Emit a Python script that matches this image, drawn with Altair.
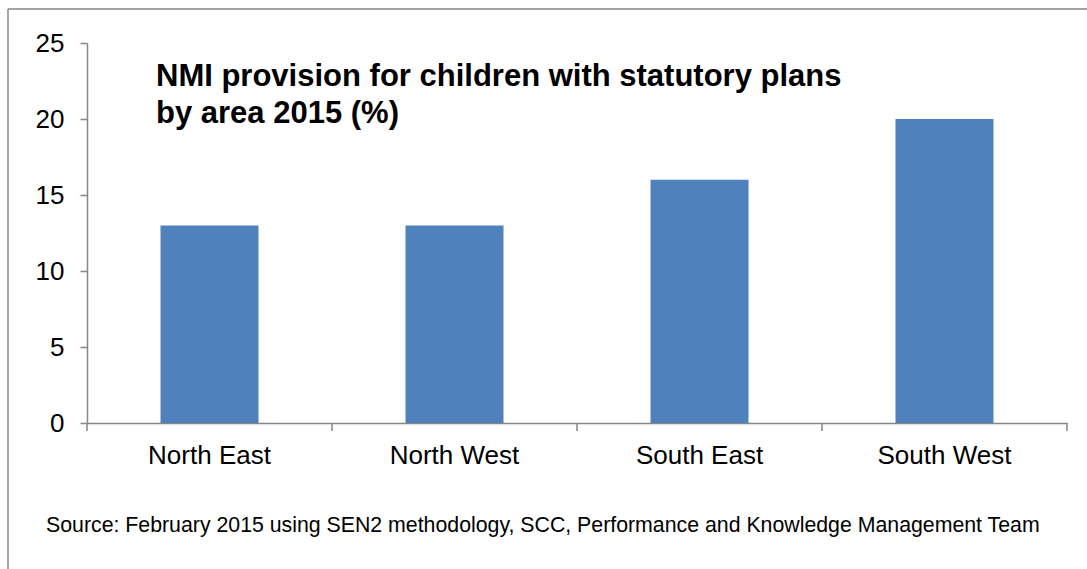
import altair as alt
import pandas as pd

areas = ["North East", "North West", "South East", "South West"]
values = [13, 13, 16, 20]
y_ticks = [0, 5, 10, 15, 20, 25]
band_edges = [0, 1, 2, 3, 4]
title_lines = "NMI provision for children with statutory plans\nby area 2015 (%)"
source_text = "Source: February 2015 using SEN2 methodology, SCC, Performance and Knowledge Management Team"

df = pd.DataFrame({"area": areas, "value": values})
edges_df = pd.DataFrame({"edge": band_edges})
one = pd.DataFrame({"k": [0]})

FONT = "Liberation Sans"
GREY = "#868686"

bars = alt.Chart(df).mark_bar(color="#4F81BD").encode(
    x=alt.X(
        "area:N",
        sort=areas,
        scale=alt.Scale(paddingInner=0.6, paddingOuter=0.3),
        axis=alt.Axis(
            title=None, labelAngle=0, labelFontSize=26, labelFont=FONT,
            labelColor="#000000", domainColor=GREY, domainWidth=1.5,
            ticks=False, labelPadding=19,
        ),
    ),
    y=alt.Y(
        "value:Q",
        scale=alt.Scale(domain=[0, 25], nice=False),
        axis=alt.Axis(
            title=None, values=y_ticks, labelFontSize=26, labelFont=FONT,
            labelColor="#000000", domainColor=GREY, domainWidth=1.5,
            tickColor=GREY, tickWidth=1.5, tickSize=7, grid=False,
            labelPadding=16,
        ),
    ),
)

xticks = alt.Chart(edges_df).mark_rule(color=GREY, strokeWidth=1.5).encode(
    x=alt.X("edge:Q", scale=alt.Scale(domain=[0, 4], nice=False, zero=False), axis=None),
    y=alt.value(380),
    y2=alt.value(388),
)

title = alt.Chart(one).mark_text(
    text=title_lines, lineBreak="\n", lineHeight=37, font=FONT,
    fontSize=31, fontWeight="bold", align="left", baseline="alphabetic",
    color="#000000",
).encode(x=alt.value(69), y=alt.value(43))

source = alt.Chart(one).mark_text(
    text=source_text, font=FONT, fontSize=21.3, fontWeight="normal",
    align="left", baseline="alphabetic", color="#000000",
).encode(x=alt.value(-41), y=alt.value(489))

border_left = alt.Chart(one).mark_rule(color=GREY, strokeWidth=1.5).encode(
    x=alt.value(-79), y=alt.value(-34), y2=alt.value(540)
)
border_top = alt.Chart(one).mark_rule(color=GREY, strokeWidth=1.5).encode(
    x=alt.value(-79), x2=alt.value(1010), y=alt.value(-34)
)

chart = alt.layer(bars, xticks, title, source, border_left, border_top).resolve_scale(
    x="independent"
).properties(
    width=980,
    height=380,
    padding={"left": 87, "top": 43, "right": 20, "bottom": 146},
    autosize=alt.AutoSizeParams(type="none"),
    background="#ffffff",
).configure_view(stroke=None)

chart.save("out.html", embed_options={"renderer": "svg", "actions": False})
